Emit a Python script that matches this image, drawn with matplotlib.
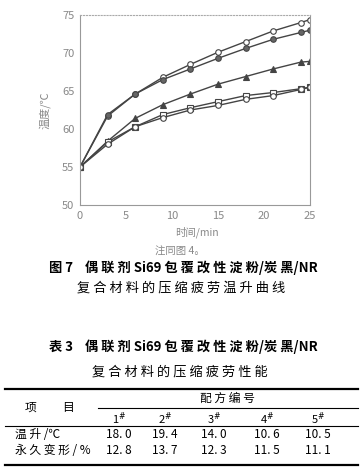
import matplotlib
matplotlib.use("Agg")
import matplotlib.pyplot as plt

plt.rcParams['font.family'] = ['Noto Sans CJK SC', 'DejaVu Sans']

# time (min) and temperature (°C) per formulation
time_min = [0, 3, 6, 9, 12, 15, 18, 21, 24, 25]
temp_2 = [55, 61.7, 64.6, 66.8, 68.5, 70.1, 71.5, 72.9, 74.0, 74.4]
temp_1 = [55, 61.9, 64.6, 66.5, 67.9, 69.3, 70.6, 71.8, 72.7, 73.0]
temp_3 = [55, 58.4, 61.4, 63.2, 64.6, 65.9, 66.9, 67.9, 68.8, 68.9]
temp_4 = [55, 58.3, 60.3, 61.9, 62.8, 63.6, 64.4, 64.8, 65.3, 65.5]
temp_5 = [55, 58.0, 60.3, 61.5, 62.5, 63.1, 63.9, 64.4, 65.2, 65.5]

x_ticks = [0, 5, 10, 15, 20, 25]
y_ticks = [50, 55, 60, 65, 70, 75]

# table 3
col_labels = ["1#", "2#", "3#", "4#", "5#"]
row_labels = ["温 升 /℃", "永 久 变 形 / %"]
temp_rise = ["18. 0", "19. 4", "14. 0", "10. 6", "10. 5"]
perm_set = ["12. 8", "13. 7", "12. 3", "11. 5", "11. 1"]

W, H = 363, 471
fig = plt.figure(figsize=(W / 100, H / 100), dpi=100)
ax = fig.add_axes([80 / W, 1 - 205 / H, 230 / W, 190 / H])

lc = "#444444"
ax.plot(time_min, temp_2, color=lc, lw=1, marker="o", ms=4, mfc="white", mec=lc, mew=0.8)
ax.plot(time_min, temp_1, color=lc, lw=1, marker="o", ms=4, mfc="#666666", mec=lc, mew=0.8)
ax.plot(time_min, temp_3, color=lc, lw=1, marker="^", ms=4, mfc=lc, mec=lc, mew=0.8)
ax.plot(time_min, temp_4, color=lc, lw=1, marker="s", ms=3.8, mfc="white", mec=lc, mew=0.8)
ax.plot(time_min, temp_5, color=lc, lw=1, marker="o", ms=4, mfc="white", mec=lc, mew=0.8)

ax.set_xlim(0, 25)
ax.set_ylim(50, 75)
ax.set_xticks(x_ticks)
ax.set_yticks(y_ticks)
ax.tick_params(length=0, labelsize=8, labelcolor="#888888", pad=4)
for s in ["left", "bottom", "right"]:
    ax.spines[s].set_color("#999999")
    ax.spines[s].set_linewidth(0.8)
ax.spines["top"].set_color("#aaaaaa")
ax.spines["top"].set_linestyle(":")
ax.set_ylabel("温度/℃", fontsize=8, color="#888888", labelpad=8)

def t(x, y, s, **kw):
    kw.setdefault("fontsize", 8.5)
    kw.setdefault("ha", "center")
    kw.setdefault("va", "center")
    fig.text(x / W, 1 - y / H, s, **kw)

t(197, 232, "时间/min", fontsize=7.5, color="#888888")
t(180, 252, "注同图 4。", fontsize=7.5, color="#888888")
t(183, 268, "图 7    偶 联 剂 Si69 包 覆 改 性 淀 粉/炭 黑/NR", fontsize=9.5, fontweight="bold")
t(181, 288, "复 合 材 料 的 压 缩 疲 劳 温 升 曲 线", fontsize=9.5)
t(183, 347, "表 3    偶 联 剂 Si69 包 覆 改 性 淀 粉/炭 黑/NR", fontsize=9.5, fontweight="bold")
t(180, 372, "复 合 材 料 的 压 缩 疲 劳 性 能", fontsize=9.5)

# table rules
def hline(x0, x1, y, lw):
    fig.add_artist(plt.Line2D([x0 / W, x1 / W], [1 - y / H, 1 - y / H], color="black", lw=lw))

hline(5, 358, 389, 1.6)
hline(98, 358, 408, 0.8)
hline(5, 358, 426, 0.8)
hline(5, 358, 465, 1.6)

t(50, 407, "项          目")
t(227, 398, "配 方 编 号")
col_x = [119, 165, 214, 267, 318]
for cx, lab in zip(col_x, col_labels):
    t(cx, 419, lab[0] + r"$^{\#}$", fontsize=8)
for ry, rl, vals in zip([435, 451], row_labels, [temp_rise, perm_set]):
    t(15, ry, rl, ha="left")
    for cx, v in zip(col_x, vals):
        t(cx, ry, v, fontsize=8.5)

fig.savefig("out.png", dpi=100)
